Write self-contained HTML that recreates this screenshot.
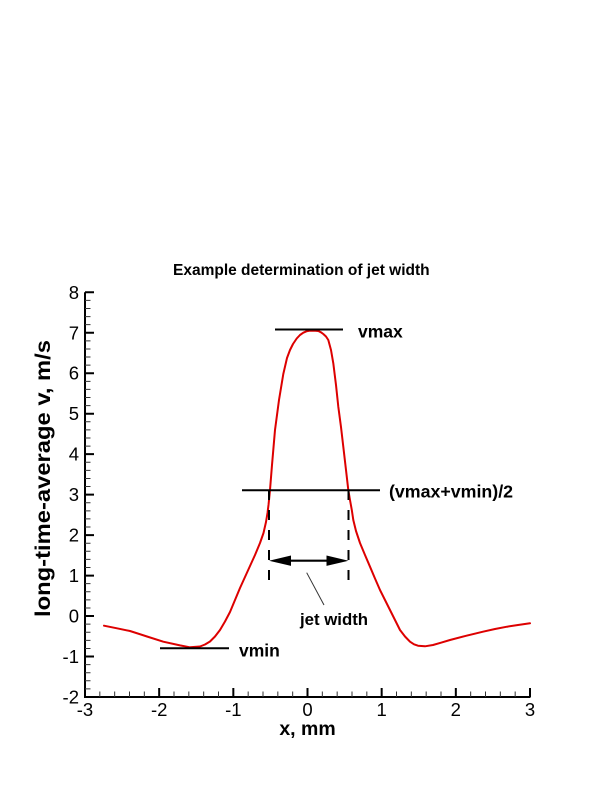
<!DOCTYPE html>
<html>
<head>
<meta charset="utf-8">
<style>
html,body{margin:0;padding:0;background:#fff;}
svg{display:block;}
text{font-family:"Liberation Sans",Arial,sans-serif;}
</style>
</head>
<body>
<svg width="614" height="794" viewBox="0 0 614 794" xmlns="http://www.w3.org/2000/svg">
<rect width="614" height="794" fill="#fff"/>

<!-- Title -->
<text x="173" y="275" font-size="15.5" font-weight="bold" fill="#000">Example determination of jet width</text>

<!-- Axes -->
<line x1="85" y1="292.3" x2="85" y2="698" stroke="#000" stroke-width="2"/>
<line x1="84" y1="697" x2="530.5" y2="697" stroke="#000" stroke-width="2"/>

<!-- X major ticks -->
<path d="M85 697V688 M159.17 697V688 M233.33 697V688 M307.5 697V688 M381.67 697V688 M455.83 697V688 M530 697V688" stroke="#000" stroke-width="2"/>
<!-- X minor ticks -->
<path d="M99.83 697V691.5 M114.67 697V691.5 M129.5 697V691.5 M144.33 697V691.5
M174 697V691.5 M188.83 697V691.5 M203.67 697V691.5 M218.5 697V691.5
M248.17 697V691.5 M263 697V691.5 M277.83 697V691.5 M292.67 697V691.5
M322.33 697V691.5 M337.17 697V691.5 M352 697V691.5 M366.83 697V691.5
M396.5 697V691.5 M411.33 697V691.5 M426.17 697V691.5 M441 697V691.5
M470.67 697V691.5 M485.5 697V691.5 M500.33 697V691.5 M515.17 697V691.5" stroke="#333" stroke-width="1"/>

<!-- Y major ticks -->
<path d="M85 697H94 M85 656.53H94 M85 616.06H94 M85 575.59H94 M85 535.12H94 M85 494.65H94 M85 454.18H94 M85 413.71H94 M85 373.24H94 M85 332.77H94 M85 292.3H94" stroke="#000" stroke-width="2"/>
<!-- Y minor ticks -->
<path d="M85 688.91H90.5 M85 680.81H90.5 M85 672.72H90.5 M85 664.62H90.5
M85 648.44H90.5 M85 640.34H90.5 M85 632.25H90.5 M85 624.15H90.5
M85 607.97H90.5 M85 599.87H90.5 M85 591.78H90.5 M85 583.68H90.5
M85 567.5H90.5 M85 559.4H90.5 M85 551.31H90.5 M85 543.21H90.5
M85 527.03H90.5 M85 518.93H90.5 M85 510.84H90.5 M85 502.74H90.5
M85 486.56H90.5 M85 478.46H90.5 M85 470.37H90.5 M85 462.27H90.5
M85 446.09H90.5 M85 437.99H90.5 M85 429.9H90.5 M85 421.8H90.5
M85 405.62H90.5 M85 397.52H90.5 M85 389.43H90.5 M85 381.33H90.5
M85 365.15H90.5 M85 357.05H90.5 M85 348.96H90.5 M85 340.86H90.5
M85 324.68H90.5 M85 316.58H90.5 M85 308.49H90.5 M85 300.39H90.5" stroke="#333" stroke-width="1"/>

<!-- X tick labels -->
<g font-size="18.5" fill="#000" text-anchor="middle">
<text x="85" y="716">-3</text>
<text x="159.17" y="716">-2</text>
<text x="233.33" y="716">-1</text>
<text x="307.5" y="716">0</text>
<text x="381.67" y="716">1</text>
<text x="455.83" y="716">2</text>
<text x="530" y="716">3</text>
</g>

<!-- Y tick labels -->
<g font-size="18.5" fill="#000" text-anchor="end">
<text x="79" y="703.5">-2</text>
<text x="79" y="663">-1</text>
<text x="79" y="622.5">0</text>
<text x="79" y="582">1</text>
<text x="79" y="541.6">2</text>
<text x="79" y="501.1">3</text>
<text x="79" y="460.7">4</text>
<text x="79" y="420.2">5</text>
<text x="79" y="379.7">6</text>
<text x="79" y="339.3">7</text>
<text x="79" y="298.8">8</text>
</g>

<!-- Axis titles -->
<text x="307.5" y="735" font-size="19.5" font-weight="bold" text-anchor="middle" fill="#000">x, mm</text>
<text transform="translate(50,617) rotate(-90)" x="0" y="0" font-size="21" font-weight="bold" textLength="277" lengthAdjust="spacingAndGlyphs" fill="#000">long-time-average v, m/s</text>

<!-- Red curve -->
<polyline fill="none" stroke="#dd0000" stroke-width="2" stroke-linejoin="round" stroke-linecap="round"
points="104,625.7 117,628.3 130,631 147,636.5 163.3,641.7 180,645.4 190,647.3 200,646.5 205,644.5 210,641.5 215,636.5 220,630 225,621.5 230,612 235,600 240,588 245,577 250,566 255,555 260,543 263.5,533 266,522 267.5,513 268.5,505 270,490 272,465 275,430 279,400 283.3,374 287,358 290,350 293,344 296.7,338.5 300,335 303.3,332.7 306.5,331.3 310,330.7 314,330.6 318.3,331 321,332.3 323.3,334 326,336.5 328.3,340 331,350 333.3,363.3 336,385 338.3,406.7 341,427 343.3,446.7 346,470 348.3,490 350,500 351.8,510 353.3,520 356,531 360,543 365,555 370,566.7 375,578.5 380,590 385,600 390,610 395,620 400,630 405,636.5 410,641.7 414,644.3 418,645.7 425,646.3 433,645 441,642.7 450,640 466,635.8 483,631.7 495,629 507,626.7 518,625 530,623.3"/>

<!-- vmax line -->
<line x1="275" y1="329.5" x2="343" y2="329.5" stroke="#000" stroke-width="2"/>
<text x="358" y="337.5" font-size="17.5" font-weight="bold" fill="#000">vmax</text>

<!-- half line -->
<line x1="242" y1="490.3" x2="380" y2="490.3" stroke="#000" stroke-width="2"/>
<text x="389" y="497.5" font-size="17.8" font-weight="bold" fill="#000">(vmax+vmin)/2</text>

<!-- vmin line -->
<line x1="160" y1="648.3" x2="229" y2="648.3" stroke="#000" stroke-width="2"/>
<text x="239" y="656.5" font-size="17.5" font-weight="bold" fill="#000">vmin</text>

<!-- dashed verticals -->
<line x1="269" y1="490" x2="269" y2="585" stroke="#000" stroke-width="2" stroke-dasharray="10,10"/>
<line x1="348.5" y1="490" x2="348.5" y2="585" stroke="#000" stroke-width="2" stroke-dasharray="10,10"/>

<!-- double arrow -->
<line x1="285" y1="560.7" x2="333" y2="560.7" stroke="#000" stroke-width="2.2"/>
<polygon points="269,560.7 291,555.5 291,565.9" fill="#000"/>
<polygon points="348.5,560.7 326.5,555.5 326.5,565.9" fill="#000"/>

<!-- leader line -->
<line x1="306.7" y1="572.7" x2="324" y2="605" stroke="#333" stroke-width="1"/>
<text x="300" y="625" font-size="16.8" font-weight="bold" fill="#000">jet width</text>

</svg>
</body>
</html>
